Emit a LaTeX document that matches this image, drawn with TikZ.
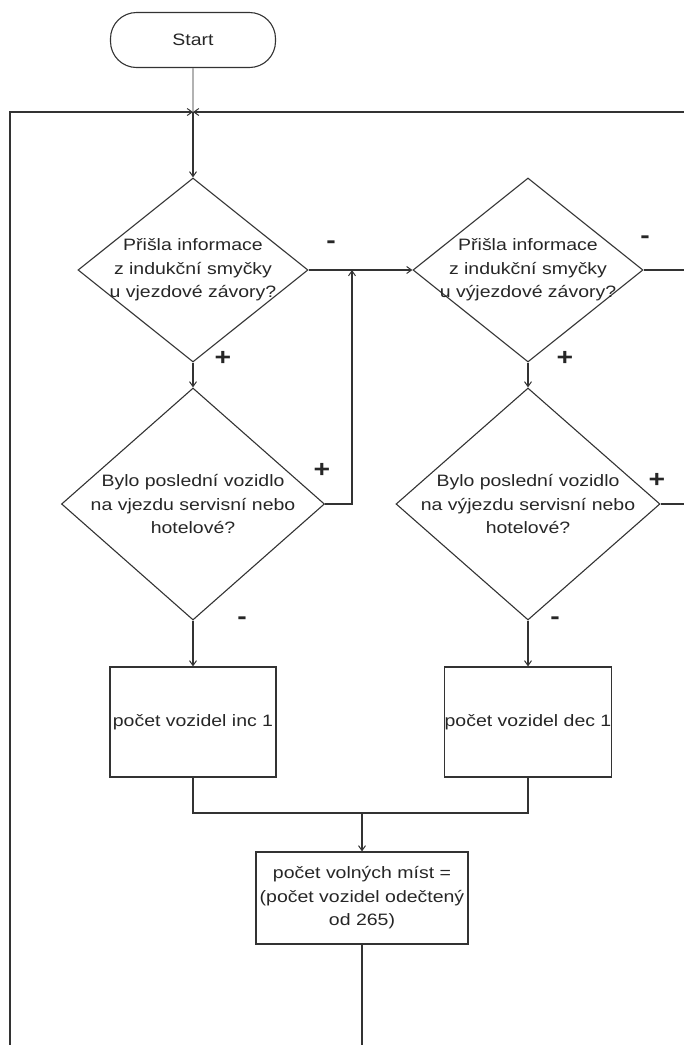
\documentclass[tikz,border=0pt]{standalone}
\usepackage{fontspec}
\setmainfont{Liberation Sans}[FakeStretch=1.18]
\usetikzlibrary{shapes.geometric,arrows.meta}

\begin{document}
\begin{tikzpicture}[x=1pt,y=-1pt,
  line width=1.1pt,
  every node/.style={font=\fontsize{16.5}{23.5}\selectfont, text=black!85},
  flow/.style={draw=black!80, -{Straight Barb[length=5pt,width=7pt,line width=1pt]}},
  wire/.style={draw=black!80},
  terminal/.style={draw=black!80, rectangle, rounded corners=26pt,
    minimum width=165pt, minimum height=55pt, inner sep=0pt},
  decision/.style={draw=black!80, diamond, inner sep=0pt},
  question/.style={align=center, inner sep=0pt},
  process/.style={draw=black!80, rectangle, inner sep=0pt, align=center},
  sign/.style={font=\fontsize{24}{24}\selectfont\bfseries, text=black!85}
]
\useasboundingbox (0,0) rectangle (684,1045);

% shapes
\node[terminal] (start) at (193,40) {Start};

\node[decision, minimum width=230pt, minimum height=184pt] (d1) at (193,270) {};
\node[question] (q1) at (d1) {Přišla informace\\z indukční smyčky\\u vjezdové závory?};
\node[decision, minimum width=230pt, minimum height=184pt] (d3) at (528,270) {};
\node[question] (q3) at (d3) {Přišla informace\\z indukční smyčky\\u výjezdové závory?};
\node[decision, minimum width=263pt, minimum height=232pt] (d2) at (193,504) {};
\node[question] (q2) at (d2) {Bylo poslední vozidlo\\na vjezdu servisní nebo\\hotelové?};
\node[decision, minimum width=264pt, minimum height=232pt] (d4) at (528,504) {};
\node[question] (q4) at (d4) {Bylo poslední vozidlo\\na výjezdu servisní nebo\\hotelové?};

\node[process, minimum width=166pt, minimum height=110pt] (inc) at (193,722)
  {počet vozidel inc 1};
\node[process, minimum width=167pt, minimum height=110pt] (dec) at (528,722)
  {počet vozidel dec 1};
\node[process, minimum width=212pt, minimum height=92pt] (free) at (362,898)
  {počet volných míst =\\(počet vozidel odečtený\\od 265)};

% junction points
\coordinate (join) at (193,112);
\coordinate (loopL) at (10,1045);
\coordinate (loopR) at (684,112);
\coordinate (merge) at (352,270);
\coordinate (d3out) at (684,270);
\coordinate (d4out) at (684,504);
\coordinate (sum) at (362,813);
\coordinate (tail) at (362,1045);

% connectors
\draw[draw=black!30, line width=1.8pt] (start.south) -- (join);
\draw[flow] (loopL) |- (join);
\draw[flow] (loopR) -- (join);
\draw[flow] (join) -- (d1.north);

\draw[flow] (d1.south) -- (d2.north);
\draw[flow] (d1.east) -- (d3.west);
\draw[flow] (d2.east) -| (merge);
\draw[flow] (d3.south) -- (d4.north);
\draw[wire] (d3.east) -- (d3out);
\draw[wire] (d4.east) -- (d4out);
\draw[flow] (d2.south) -- (inc.north);
\draw[flow] (d4.south) -- (dec.north);

\draw[wire] (inc.south) |- (sum) -| (dec.south);
\draw[flow] (sum) -- (free.north);
\draw[wire] (free.south) -- (tail);

% branch signs
\node[sign] (s1) at (331,245) {-};
\node[sign] (s2) at (223,358) {+};
\node[sign] (s3) at (322,470) {+};
\node[sign] (s4) at (242,621) {-};
\node[sign] (s5) at (645,240) {-};
\node[sign] (s6) at (565,358) {+};
\node[sign] (s7) at (657,480) {+};
\node[sign] (s8) at (555,621) {-};
\end{tikzpicture}
\end{document}
